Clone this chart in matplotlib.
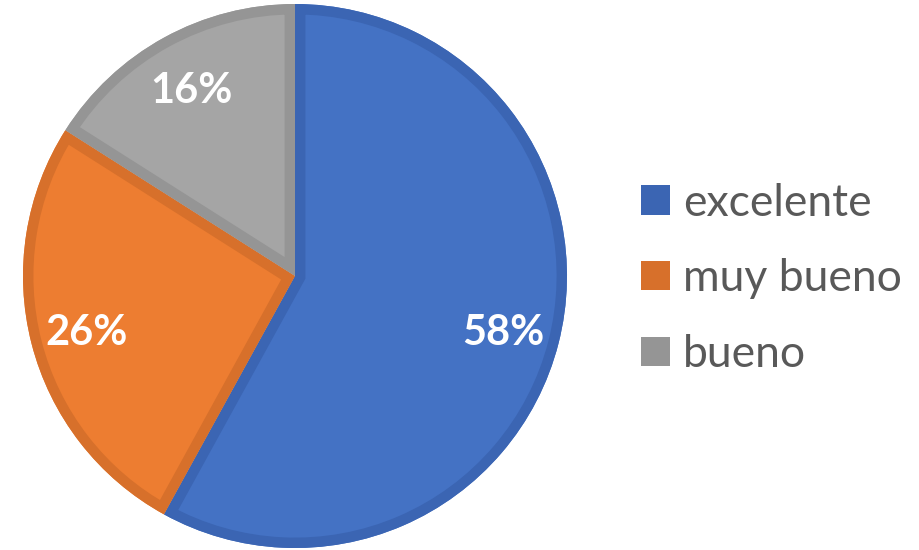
import matplotlib
matplotlib.use("Agg")
import matplotlib.pyplot as plt
from matplotlib.patches import Patch, Wedge

# datos
labels = ["excelente", "muy bueno", "bueno"]
values = [58, 26, 16]
colors = ["#4472C4", "#ED7D31", "#A5A5A5"]
edge_colors = ["#3B65B3", "#D7702B", "#959595"]

plt.rcParams["font.family"] = ["Lato", "DejaVu Sans"]

fig = plt.figure(figsize=(9.2, 5.5), dpi=100)
cx, cy, r = 295, 276, 272
ax = fig.add_axes([(cx - r) / 920, (550 - cy - r) / 550, 2 * r / 920, 2 * r / 550])

wedges, texts, autotexts = ax.pie(
    values, colors=colors, startangle=90, counterclock=False,
    autopct=lambda p: f"{p:.0f}%", pctdistance=0.79, radius=1,
    textprops=dict(color="white", fontsize=30, fontweight="bold", zorder=5),
)
for t in autotexts:
    t.set_va("center_baseline")

# borde más oscuro dentro de cada sector (línea gruesa recortada al sector)
for w, ec in zip(wedges, edge_colors):
    w.set_edgecolor("none")
    border = Wedge(w.center, w.r, w.theta1, w.theta2, facecolor="none",
                   edgecolor=ec, linewidth=15, zorder=2)
    ax.add_patch(border)
    border.set_clip_path(w.get_path(), w.get_transform())

ax.set_xlim(-1, 1)
ax.set_ylim(-1, 1)
ax.set_aspect("equal")
ax.axis("off")

handles = [Patch(facecolor=c, edgecolor="none") for c in edge_colors]
fig.legend(handles, labels, loc="center left", bbox_to_anchor=(0.697, 0.493),
           frameon=False, fontsize=32, labelcolor="#595959",
           handlelength=0.64, handleheight=0.64, handletextpad=0.3,
           labelspacing=0.78, borderpad=0, borderaxespad=0)

fig.savefig("out.png", dpi=100)
